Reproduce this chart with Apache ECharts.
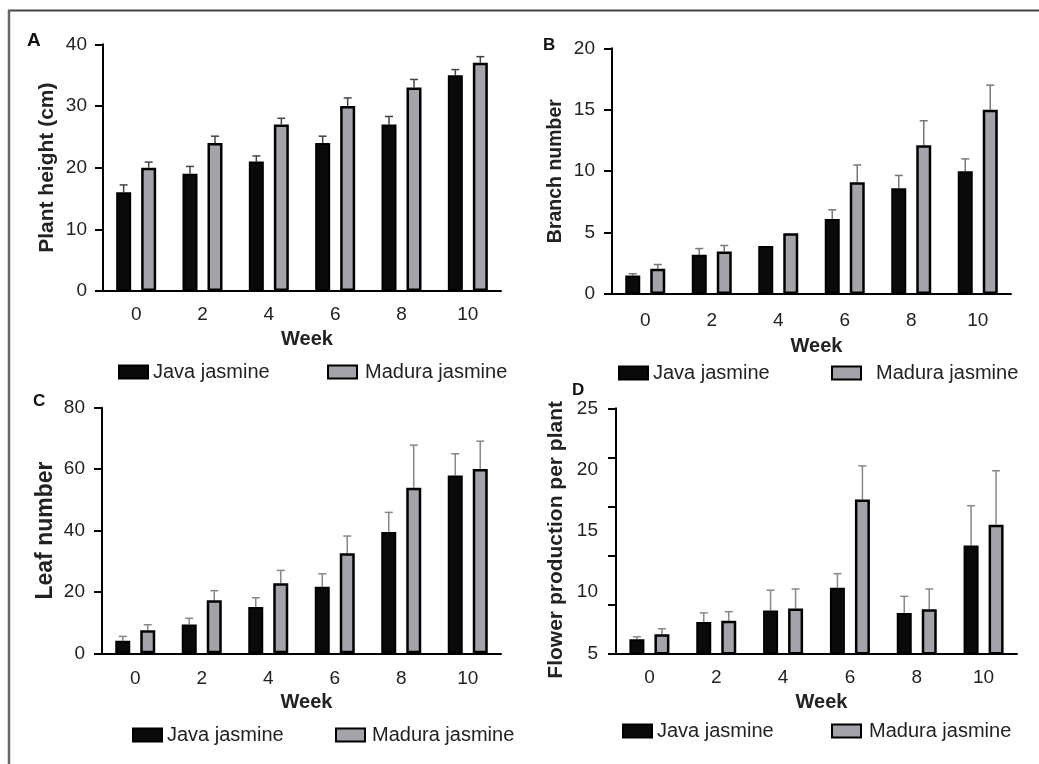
<!DOCTYPE html>
<html>
<head>
<meta charset="utf-8">
<script src="https://cdn.jsdelivr.net/npm/echarts@6/dist/echarts.min.js"></script>
<style>
html,body{margin:0;padding:0;background:#fff;}
#chart{width:1039px;height:764px;}
</style>
</head>
<body>
<div id="chart"></div>
<script>
// ---------- data ----------
const weeks = ['0', '2', '4', '6', '8', '10'];
const seriesNames = ['Java jasmine', 'Madura jasmine'];

// A: plant height (cm)
const heightJava = [16, 19, 21, 24, 27, 35];
const heightJavaErr = [1.2, 1.2, 0.9, 1.1, 1.3, 0.9];
const heightMadura = [20, 24, 27, 30, 33, 37];
const heightMaduraErr = [0.9, 1.1, 1.0, 1.3, 1.3, 1.0];

// B: branch number
const branchJava = [1.5, 3.2, 3.9, 6.1, 8.6, 10.0];
const branchJavaErr = [0.15, 0.5, 0, 0.75, 1.05, 1.0];
const branchMadura = [2.05, 3.45, 4.95, 9.1, 12.1, 15.0];
const branchMaduraErr = [0.35, 0.5, 0, 1.4, 2.0, 2.0];

// C: leaf number
const leafJava = [4.1, 9.4, 15.1, 21.7, 39.5, 57.9];
const leafJavaErr = [1.4, 2.0, 3.0, 4.2, 6.4, 7.1];
const leafMadura = [7.5, 17.3, 22.8, 32.6, 53.9, 60.0];
const leafMaduraErr = [1.8, 3.1, 4.2, 5.6, 13.9, 9.1];

// D: flower production per plant
const flowerJava = [6.15, 7.55, 8.5, 10.35, 8.3, 13.8];
const flowerJavaErr = [0.2, 0.75, 1.65, 1.15, 1.35, 3.25];
const flowerMadura = [6.55, 7.65, 8.65, 17.55, 8.6, 15.5];
const flowerMaduraErr = [0.45, 0.75, 1.6, 2.75, 1.65, 4.4];

// axis tick labels [min, max, step]
const yTicksA = [0, 40, 10];
const yTicksB = [0, 20, 5];
const yTicksC = [0, 80, 20];
const yTicksD = [5, 25, 5];

// ---------- styles ----------
const FONT = '"Liberation Sans", Arial, sans-serif';
const TXT = '#222';
const JAVA_COLOR = '#0a0a0a';
const MADURA_COLOR = '#a3a3a9';
const BAR_W = 15;
const BAR_GAP = '66.7%';
const OFFSET = 12.5;
const TICK_FS = 19;

const grids = [
  {left: 103, top: 44.3, width: 398, height: 246.7},
  {left: 612, top: 48.3, width: 399, height: 245.7},
  {left: 102, top: 407.7, width: 399, height: 245.6},
  {left: 616, top: 408.3, width: 401, height: 245}
];

function xAxis(gi, margin, nameGap) {
  return {
    type: 'category', gridIndex: gi, data: weeks,
    axisLine: {lineStyle: {color: '#000', width: 2}},
    axisTick: {alignWithLabel: true, length: 7, lineStyle: {color: '#000', width: 2}},
    axisLabel: {fontFamily: FONT, fontSize: TICK_FS, color: TXT, margin: margin},
    name: 'Week', nameLocation: 'middle', nameGap: nameGap,
    nameTextStyle: {fontFamily: FONT, fontSize: 20, fontWeight: 'bold', color: TXT, padding: [0, 0, 0, 10]}
  };
}
function yAxis(gi, ticks, name, nameSize, nameGap, margin, extra) {
  const a = {
    type: 'value', gridIndex: gi, min: ticks[0], max: ticks[1], interval: ticks[2],
    axisLine: {show: true, lineStyle: {color: '#000', width: 2}},
    axisTick: {show: true, length: 8, lineStyle: {color: '#000', width: 2}},
    splitLine: {show: false},
    axisLabel: {fontFamily: FONT, fontSize: TICK_FS, color: TXT, margin: margin},
    name: name, nameLocation: 'middle', nameGap: nameGap,
    nameTextStyle: {fontFamily: FONT, fontSize: nameSize, fontWeight: 'bold', color: TXT}
  };
  return Object.assign(a, extra || {});
}

function errRender(offset, color) {
  return function (params, api) {
    const i = api.value(0), v = api.value(1), e = api.value(2);
    if (!e) return null;
    const p0 = api.coord([i, v]);
    const p1 = api.coord([i, v + e]);
    const x = p0[0] + offset;
    return {
      type: 'group',
      children: [
        {type: 'line', shape: {x1: x, y1: p0[1], x2: x, y2: p1[1]}, style: {stroke: color, lineWidth: 1.5}},
        {type: 'line', shape: {x1: x - 4, y1: p1[1], x2: x + 4, y2: p1[1]}, style: {stroke: color, lineWidth: 1.5}}
      ]
    };
  };
}

function barPair(gi, yi, java, javaErr, madura, maduraErr, errColor) {
  return [
    {type: 'bar', name: seriesNames[0], xAxisIndex: gi, yAxisIndex: yi, data: java,
     barWidth: BAR_W, barGap: BAR_GAP,
     itemStyle: {color: JAVA_COLOR, borderColor: '#000', borderWidth: 2}},
    {type: 'bar', name: seriesNames[1], xAxisIndex: gi, yAxisIndex: yi, data: madura,
     barWidth: BAR_W, barGap: BAR_GAP,
     itemStyle: {color: MADURA_COLOR, borderColor: '#000', borderWidth: 2.5}},
    {type: 'custom', xAxisIndex: gi, yAxisIndex: yi, z: 1,
     data: weeks.map((w, i) => [i, java[i], javaErr[i]]),
     encode: {x: 0, y: 1}, renderItem: errRender(-OFFSET, errColor)},
    {type: 'custom', xAxisIndex: gi, yAxisIndex: yi, z: 1,
     data: weeks.map((w, i) => [i, madura[i], maduraErr[i]]),
     encode: {x: 0, y: 1}, renderItem: errRender(OFFSET, errColor)}
  ];
}

function legendItem(name, left, top, padLeft) {
  return {
    data: [name], left: left, top: top, itemWidth: 29, itemHeight: 13, icon: 'rect',
    selectedMode: false,
    textStyle: {fontFamily: FONT, fontSize: 20, color: TXT, padding: [0, 0, 0, padLeft || 0]}
  };
}

const letterStyle = (size) => ({fontFamily: FONT, fontSize: size, fontWeight: 'bold', color: '#111'});

const option = {
  backgroundColor: '#fff',
  animation: false,
  title: [
    {text: 'A', left: 22, top: 26, textStyle: letterStyle(19)},
    {text: 'B', left: 538, top: 32, textStyle: letterStyle(17)},
    {text: 'C', left: 28, top: 388, textStyle: letterStyle(17)},
    {text: 'D', left: 567, top: 377, textStyle: letterStyle(17)}
  ],
  legend: [
    legendItem(seriesNames[0], 113, 357),
    legendItem(seriesNames[1], 322, 357, 3),
    legendItem(seriesNames[0], 613, 358),
    legendItem(seriesNames[1], 826, 358, 10),
    legendItem(seriesNames[0], 127, 720),
    legendItem(seriesNames[1], 330, 720, 2),
    legendItem(seriesNames[0], 617, 716),
    legendItem(seriesNames[1], 826, 716, 3)
  ],
  grid: grids,
  xAxis: [xAxis(0, 14, 38), xAxis(1, 17, 42), xAxis(2, 16, 39), xAxis(3, 15, 39)],
  yAxis: [
    yAxis(0, yTicksA, 'Plant height (cm)', 21, 45, 16),
    yAxis(1, yTicksB, 'Branch number', 19.5, 46, 17),
    yAxis(2, yTicksC, 'Leaf number', 23, 45, 17),
    yAxis(3, yTicksD, 'Flower production per plant', 21, 49, 18,
      {axisTick: {show: false}, nameTextStyle: {fontFamily: FONT, fontSize: 21, fontWeight: 'bold', color: TXT, padding: [0, 18, 0, 0]}}),
    {type: 'value', gridIndex: 3, min: 0, max: 5, interval: 1, position: 'left',
     axisLine: {show: false}, axisLabel: {show: false}, splitLine: {show: false},
     axisTick: {show: true, length: 8, lineStyle: {color: '#000', width: 2}}}
  ],
  series: [].concat(
    barPair(0, 0, heightJava, heightJavaErr, heightMadura, heightMaduraErr, '#444'),
    barPair(1, 1, branchJava, branchJavaErr, branchMadura, branchMaduraErr, '#777'),
    barPair(2, 2, leafJava, leafJavaErr, leafMadura, leafMaduraErr, '#888'),
    barPair(3, 3, flowerJava, flowerJavaErr, flowerMadura, flowerMaduraErr, '#888')
  ),
  graphic: [
    {type: 'line', shape: {x1: 8, y1: 10.5, x2: 1039, y2: 10.5}, style: {stroke: '#444', lineWidth: 2}, silent: true},
    {type: 'line', shape: {x1: 9, y1: 10, x2: 9, y2: 764}, style: {stroke: '#666', lineWidth: 2.5}, silent: true}
  ]
};

const chart = echarts.init(document.getElementById('chart'), null, {renderer: 'canvas'});
chart.setOption(option);
</script>
</body>
</html>
